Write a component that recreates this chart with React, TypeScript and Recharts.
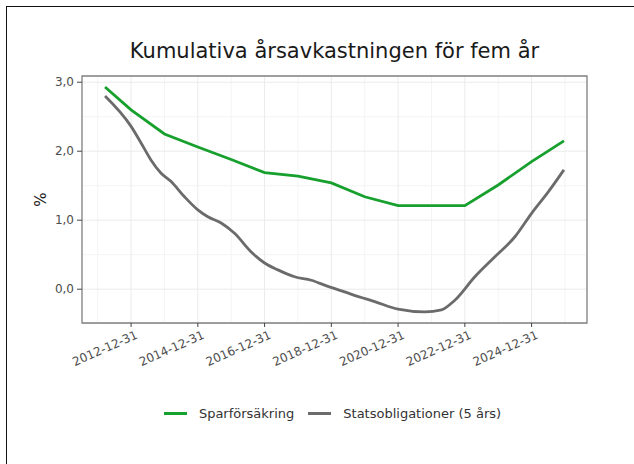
import React from 'react';
import {
  LineChart,
  Line,
  XAxis,
  YAxis,
  CartesianGrid,
  Legend,
  ReferenceArea,
} from 'recharts';

// decimal years
const sparYears = [2012.22, 2013, 2014, 2015, 2016, 2017, 2018, 2019, 2020, 2021, 2022, 2023, 2024, 2025, 2025.97];
const sparValues = [2.93, 2.6, 2.25, 2.06, 1.88, 1.69, 1.64, 1.54, 1.34, 1.21, 1.21, 1.21, 1.51, 1.85, 2.15];

const statsYears = [
  2012.22, 2013.0, 2013.3, 2013.6, 2013.9, 2014.2, 2014.6, 2015.0, 2015.3, 2015.7,
  2016.1, 2016.6, 2017.0, 2017.4, 2017.9, 2018.4, 2018.9, 2019.4, 2019.9, 2020.3,
  2021.0, 2021.8, 2022.3, 2022.7, 2023.3, 2023.9, 2024.5, 2025.0, 2025.5, 2025.97,
];
const statsValues = [
  2.8, 2.36, 2.12, 1.87, 1.68, 1.56, 1.34, 1.15, 1.05, 0.96,
  0.81, 0.54, 0.38, 0.28, 0.18, 0.13, 0.04, -0.04, -0.12, -0.18,
  -0.29, -0.33, -0.3, -0.16, 0.18, 0.47, 0.76, 1.1, 1.41, 1.73,
];

const xTicks = [2013, 2015, 2017, 2019, 2021, 2023, 2025];
const xTickLabels = ['2012-12-31', '2014-12-31', '2016-12-31', '2018-12-31', '2020-12-31', '2022-12-31', '2024-12-31'];
const xMinor = [2012, 2014, 2016, 2018, 2020, 2022, 2024, 2026];
const yTicks = [0, 1, 2, 3];
const yMinor = [-0.5, 0.5, 1.5, 2.5];

const X_DOMAIN: [number, number] = [2011.53, 2026.66];
const Y_DOMAIN: [number, number] = [-0.49, 3.09];

const FONT = '"DejaVu Sans", sans-serif';
const GREEN = '#17a02d';
const GREY = '#6b6b6b';

const sparData = sparYears.map((x, i) => ({ x, v: sparValues[i] }));
const statsData = statsYears.map((x, i) => ({ x, v: statsValues[i] }));

const XTick = (props: any) => {
  const { x, y, payload } = props;
  const idx = xTicks.indexOf(payload.value);
  return (
    <g transform={`translate(${x + 4},${y + 1})`}>
      <text
        transform="rotate(-24)"
        textAnchor="end"
        dy="0.71em"
        fontSize={12}
        fontFamily={FONT}
        fill="#4d4d4d"
      >
        {xTickLabels[idx]}
      </text>
    </g>
  );
};

const LegendBox = (props: any) => {
  const items = props.payload || [];
  return (
    <div
      style={{
        display: 'flex',
        justifyContent: 'center',
        alignItems: 'center',
        height: 20,
        paddingLeft: 10,
        fontFamily: FONT,
        fontSize: 13,
        color: '#333',
      }}
    >
      {items.map((it: any) => (
        <div key={it.value} style={{ display: 'flex', alignItems: 'center', marginRight: 14 }}>
          <span style={{ display: 'inline-block', width: 23, height: 3, background: it.color, marginRight: 12 }} />
          <span>{it.value}</span>
        </div>
      ))}
    </div>
  );
};

export default function App() {
  return (
    <div style={{ position: 'absolute', left: 0, top: 0, width: 634, height: 464, background: '#fff' }}>
      <div
        style={{
          position: 'absolute',
          left: 6,
          top: 6,
          width: 628,
          height: 458,
          borderTop: '1px solid #111',
          borderLeft: '1px solid #111',
        }}
      />
      <div
        style={{
          position: 'absolute',
          left: 82,
          top: 39,
          width: 505,
          textAlign: 'center',
          fontFamily: FONT,
          fontSize: 21,
          lineHeight: '24px',
          color: '#1a1a1a',
        }}
      >
        Kumulativa årsavkastningen för fem år
      </div>
      <div style={{ position: 'absolute', left: 0, top: 0 }}>
        <LineChart width={634} height={464} margin={{ top: 76, right: 47, bottom: 41, left: 0 }}>
          <CartesianGrid stroke="#f4f4f4" horizontalValues={yMinor} verticalValues={xMinor} />
          <CartesianGrid stroke="#ebebeb" horizontalValues={yTicks} verticalValues={xTicks} />
          <XAxis
            dataKey="x"
            type="number"
            domain={X_DOMAIN}
            ticks={xTicks}
            allowDataOverflow
            axisLine={false}
            tickLine={{ stroke: '#444' }}
            tickSize={4}
            height={80}
            tick={<XTick />}
            interval={0}
          />
          <YAxis
            type="number"
            domain={Y_DOMAIN}
            ticks={yTicks}
            allowDataOverflow
            axisLine={false}
            tickLine={{ stroke: '#444' }}
            tickSize={5}
            tickMargin={3}
            width={82}
            tickFormatter={(v: number) => v.toFixed(1).replace('.', ',')}
            tick={{ fontSize: 12, fontFamily: FONT, fill: '#4d4d4d' }}
            label={{ value: '%', angle: -90, position: 'center', dx: 0, fontSize: 15, fontFamily: FONT, fill: '#1a1a1a' }}
          />
          <ReferenceArea
            x1={X_DOMAIN[0]}
            x2={X_DOMAIN[1]}
            y1={Y_DOMAIN[0]}
            y2={Y_DOMAIN[1]}
            fill="none"
            stroke="#7f7f7f"
            strokeWidth={1.3}
            ifOverflow="visible"
          />
          <Line
            data={sparData}
            dataKey="v"
            name="Sparförsäkring"
            type="linear"
            stroke={GREEN}
            strokeWidth={2.8}
            dot={false}
            isAnimationActive={false}
          />
          <Line
            data={statsData}
            dataKey="v"
            name="Statsobligationer (5 års)"
            type="monotone"
            stroke={GREY}
            strokeWidth={2.8}
            dot={false}
            isAnimationActive={false}
          />
          <Legend verticalAlign="bottom" content={<LegendBox />} wrapperStyle={{ left: 82, width: 505 }} />
        </LineChart>
      </div>
    </div>
  );
}
